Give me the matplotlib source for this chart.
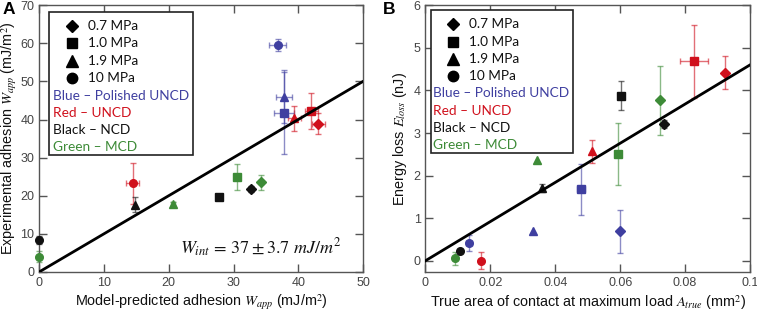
import matplotlib
matplotlib.use("Agg")
import matplotlib.pyplot as plt
from matplotlib.patches import Rectangle

plt.rcParams['font.family'] = ['Liberation Sans', 'DejaVu Sans']
plt.rcParams['mathtext.fontset'] = 'stix'

# ---------------- data ----------------
colors = {'blue': '#3f3fa0', 'red': '#d0101c', 'black': '#111111', 'green': '#3d8b37'}
markers = {'0.7': 'D', '1.0': 's', '1.9': '^', '10': 'o'}

# Panel A: (color, pressure, x, y, xerr, yerr)
a_color = ['blue', 'blue', 'blue', 'red', 'red', 'red', 'red',
           'black', 'black', 'black', 'black', 'green', 'green', 'green', 'green']
a_press = ['10', '1.9', '1.0', '10', '1.9', '1.0', '0.7',
           '10', '1.9', '1.0', '0.7', '10', '1.9', '1.0', '0.7']
a_x = [36.8, 37.8, 37.8, 14.4, 39.4, 42.0, 43.1,
       0.0, 14.8, 27.7, 32.7, 0.0, 20.6, 30.5, 34.3]
a_y = [59.6, 46.0, 41.7, 23.2, 40.3, 42.2, 38.9,
       8.4, 17.6, 19.7, 21.8, 4.0, 17.8, 25.0, 23.5]
a_xerr = [1.3, 1.3, 1.5, 1.0, 1.0, 1.0, 1.0,
          0.0, 0.0, 0.0, 0.3, 0.0, 0.3, 0.0, 0.3]
a_yerr = [1.5, 7.0, 10.8, 5.5, 3.2, 4.7, 2.8,
          1.0, 2.0, 0.0, 0.8, 1.4, 0.5, 3.4, 2.0]
a_fit_x = [0, 50]
a_fit_y = [0, 50]

# Panel B
b_color = ['green', 'black', 'blue', 'red', 'blue', 'green', 'black', 'blue',
           'red', 'green', 'black', 'blue', 'green', 'black', 'red', 'red']
b_press = ['10', '10', '10', '10', '1.9', '1.9', '1.9', '1.0',
           '1.9', '1.0', '1.0', '0.7', '0.7', '0.7', '1.0', '0.7']
b_x = [0.0091, 0.0108, 0.0134, 0.0172, 0.0332, 0.0345, 0.0360, 0.0480,
       0.0512, 0.0592, 0.0602, 0.0599, 0.0722, 0.0734, 0.0827, 0.0922]
b_y = [0.055, 0.23, 0.42, 0.0, 0.70, 2.36, 1.71, 1.68,
       2.57, 2.51, 3.88, 0.69, 3.77, 3.21, 4.68, 4.42]
b_xerr = [0.0, 0.0, 0.0008, 0.0, 0.0, 0.0, 0.0, 0.0012,
          0.0, 0.0, 0.0, 0.0, 0.0, 0.0005, 0.0044, 0.0]
b_yerr = [0.15, 0.0, 0.18, 0.20, 0.0, 0.0, 0.10, 0.60,
          0.27, 0.73, 0.33, 0.50, 0.81, 0.10, 0.86, 0.39]
b_fit_x = [0, 0.1]
b_fit_y = [0, 4.6]

legend_p = ['0.7', '1.0', '1.9', '10']
legend_p_text = ['0.7 MPa', '1.0 MPa', '1.9 MPa', '10 MPa']
legend_c = ['blue', 'red', 'black', 'green']
legend_c_text = ['Blue – Polished UNCD', 'Red – UNCD', 'Black – NCD', 'Green – MCD']

# ---------------- figure ----------------
fig = plt.figure(figsize=(7.57, 3.11), dpi=100)
axA = fig.add_axes([0.052, 0.126, 0.4275, 0.857])
axB = fig.add_axes([0.562, 0.126, 0.4288, 0.857])

spine_col = '#555555'
tick_col = '#444444'


def style(ax):
    for s in ax.spines.values():
        s.set_color(spine_col)
        s.set_linewidth(1.0)
    ax.tick_params(direction='in', length=6, width=1, color=spine_col,
                   labelcolor=tick_col, labelsize=9, top=True, right=True,
                   labeltop=False, labelright=False, pad=3.5)


def draw_points(ax, cols, press, xs, ys, xe, ye, ms=5.5):
    for c, p, x, y, dx, dy in zip(cols, press, xs, ys, xe, ye):
        col = colors[c]
        ax.errorbar(x, y, xerr=dx if dx > 0 else None, yerr=dy if dy > 0 else None,
                    fmt='none', ecolor=col, alpha=0.6, elinewidth=1.0, capsize=2.5,
                    capthick=1.0, zorder=2, clip_on=False)
        m = markers[p]
        size = ms - 0.8 if m == 'D' else (ms + 0.5 if m == '^' else ms)
        ax.plot(x, y, marker=m, color=col, markersize=size, linestyle='none',
                zorder=3, clip_on=False)


def draw_legend(ax, box, mx, tx, cx, rows, fs=9.8):
    ax.add_patch(Rectangle((box[0], box[1]), box[2] - box[0], box[3] - box[1],
                           transform=ax.transAxes, facecolor='white',
                           edgecolor='#222222', linewidth=1.2, zorder=5))
    for i, (p, t) in enumerate(zip(legend_p, legend_p_text)):
        m = markers[p]
        size = 6.5 if m == 'D' else (8 if m == '^' else 7.5)
        ax.plot([mx], [rows[i]], marker=m, color='black', markersize=size,
                transform=ax.transAxes, zorder=6, clip_on=False, linestyle='none')
        ax.text(tx, rows[i], t, transform=ax.transAxes, va='center', ha='left',
                fontsize=fs, family=['Lato', 'DejaVu Sans'], color='#111111', zorder=6)
    for j, (c, t) in enumerate(zip(legend_c, legend_c_text)):
        ax.text(cx, rows[4 + j], t, transform=ax.transAxes, va='center', ha='left',
                fontsize=fs, family=['Lato', 'DejaVu Sans'], color=colors[c], zorder=6)


# Panel A
style(axA)
axA.set_xlim(0, 50)
axA.set_ylim(0, 70)
axA.set_xticks(range(0, 51, 10))
axA.set_yticks(range(0, 71, 10))
axA.plot(a_fit_x, a_fit_y, color='black', linewidth=2.0, zorder=4)
draw_points(axA, a_color, a_press, a_x, a_y, a_xerr, a_yerr)
axA.set_xlabel(r'Model-predicted adhesion $W_{app}$ (mJ/m$^2$)', fontsize=10.4,
               color='#111111', labelpad=3)
axA.set_ylabel(r'Experimental adhesion $W_{app}$ (mJ/m$^2$)', fontsize=10.4,
               color='#111111')
axA.yaxis.set_label_coords(-0.063, 0.5)
axA.text(21.8, 4.6, r'$W_{int}\, =\, 37 \pm 3.7\ mJ/m^2$', fontsize=13, color='#111111',
         ha='left', va='baseline')
draw_legend(axA, (0.030, 0.438, 0.475, 0.976), 0.0995, 0.151, 0.0427,
            [0.923, 0.857, 0.791, 0.726, 0.661, 0.597, 0.532, 0.467])

# Panel B
style(axB)
axB.set_xlim(0, 0.1)
axB.set_ylim(-0.26, 6)
axB.set_xticks([0, 0.02, 0.04, 0.06, 0.08, 0.1])
axB.set_xticklabels(['0', '0.02', '0.04', '0.06', '0.08', '0.1'])
axB.set_yticks(range(0, 7))
axB.plot(b_fit_x, b_fit_y, color='black', linewidth=2.0, zorder=4)
draw_points(axB, b_color, b_press, b_x, b_y, b_xerr, b_yerr)
axB.set_xlabel(r'True area of contact at maximum load $A_{true}$ (mm$^2$)', fontsize=10.4,
               color='#111111', labelpad=3)
axB.set_ylabel(r'Energy loss $E_{loss}$ (nJ)', fontsize=10.4, color='#111111')
axB.yaxis.set_label_coords(-0.05, 0.5)
draw_legend(axB, (0.016, 0.444, 0.4555, 0.982), 0.0857, 0.135, 0.024,
            [0.930, 0.864, 0.798, 0.735, 0.670, 0.605, 0.541, 0.474])

fig.text(0.004, 0.992, 'A', fontsize=12.5, fontweight='bold', va='top', ha='left')
fig.text(0.506, 0.992, 'B', fontsize=12.5, fontweight='bold', va='top', ha='left')

fig.savefig('out.png', dpi=100)
